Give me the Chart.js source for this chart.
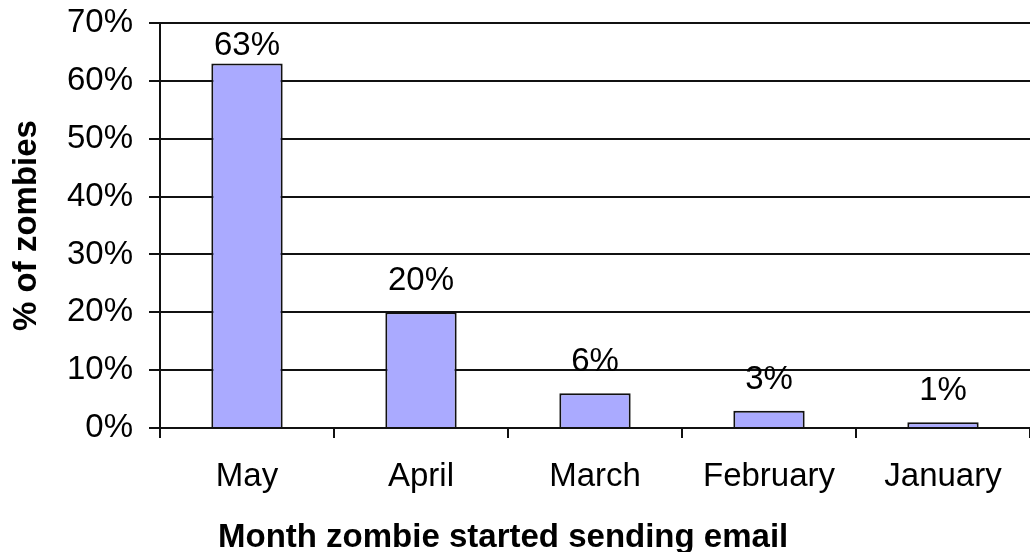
<!DOCTYPE html>
<html>
<head>
<meta charset="utf-8">
<script src="https://cdn.jsdelivr.net/npm/chart.js@4/dist/chart.umd.min.js"></script>
<style>
  html, body { margin: 0; padding: 0; background: #fff; overflow: hidden; }
  #chart { display: block; }
</style>
</head>
<body>
<canvas id="chart" width="1030" height="552"></canvas>
<script>
// Month each zombie began sending mail, share of all zombies (%)
const months = ['May', 'April', 'March', 'February', 'January'];
const shares = [63, 20, 6, 3, 1];
const yTicks = [0, 10, 20, 30, 40, 50, 60, 70];
const xTitle = 'Month zombie started sending email';
const yTitle = '% of zombies';

const FONT = '"Liberation Sans", Arial, sans-serif';
const LINE = '#111';

// Writes the percentage above each bar, kept inside the plot area
const barLabels = {
    id: 'barLabels',
    afterDatasetsDraw(chart) {
        const ctx = chart.ctx;
        const meta = chart.getDatasetMeta(0);
        ctx.save();
        ctx.font = '33px ' + FONT;
        ctx.fillStyle = '#000';
        ctx.textAlign = 'center';
        ctx.textBaseline = 'alphabetic';
        meta.data.forEach((bar, i) => {
            const y = Math.max(bar.y - 22, chart.chartArea.top + 32);
            ctx.fillText(Math.round(shares[i]) + '%', bar.x, y);
        });
        ctx.restore();
    }
};

// Bottom axis title, set a little left of centre
const xAxisTitle = {
    id: 'xAxisTitle',
    afterDraw(chart) {
        const ctx = chart.ctx;
        ctx.save();
        ctx.font = 'bold 33px ' + FONT;
        ctx.fillStyle = '#000';
        ctx.textAlign = 'left';
        ctx.textBaseline = 'alphabetic';
        ctx.fillText(xTitle, chart.chartArea.left + 58, chart.chartArea.bottom + 119);
        ctx.restore();
    }
};

new Chart(document.getElementById('chart'), {
    type: 'bar',
    data: {
        labels: months,
        datasets: [{
            data: shares,
            backgroundColor: '#aaaaff',
            borderColor: LINE,
            borderWidth: 2,
            barPercentage: 0.41,
            categoryPercentage: 1
        }]
    },
    options: {
        responsive: false,
        animation: false,
        layout: {
            padding: { top: 23, left: 0, right: 0, bottom: 0 }
        },
        plugins: {
            legend: { display: false },
            tooltip: { enabled: false }
        },
        scales: {
            x: {
                afterFit(scale) {
                    scale.height = 124;
                    scale.paddingLeft = 0;
                    scale.paddingRight = 0;
                },
                grid: {
                    display: true,
                    drawOnChartArea: false,
                    drawTicks: true,
                    tickLength: 10,
                    color: LINE,
                    lineWidth: 2
                },
                border: { color: LINE, width: 2 },
                ticks: {
                    color: '#000',
                    font: { family: FONT, size: 33 },
                    padding: 19,
                    maxRotation: 0
                }
            },
            y: {
                min: 0,
                max: 70,
                afterBuildTicks(scale) {
                    scale.ticks = yTicks.map(v => ({ value: v }));
                },
                afterFit(scale) {
                    scale.width = 160;
                    scale.paddingTop = 0;
                    scale.paddingBottom = 0;
                },
                grid: {
                    color: LINE,
                    lineWidth: 2,
                    tickLength: 11
                },
                border: { color: LINE, width: 2 },
                ticks: {
                    color: '#000',
                    font: { family: FONT, size: 33 },
                    padding: 16,
                    callback: v => v + '%'
                },
                title: {
                    display: true,
                    text: yTitle,
                    color: '#000',
                    font: { family: FONT, size: 33, weight: 'bold' },
                    padding: { top: 7, bottom: 5 }
                }
            }
        }
    },
    plugins: [barLabels, xAxisTitle]
});
</script>
</body>
</html>
